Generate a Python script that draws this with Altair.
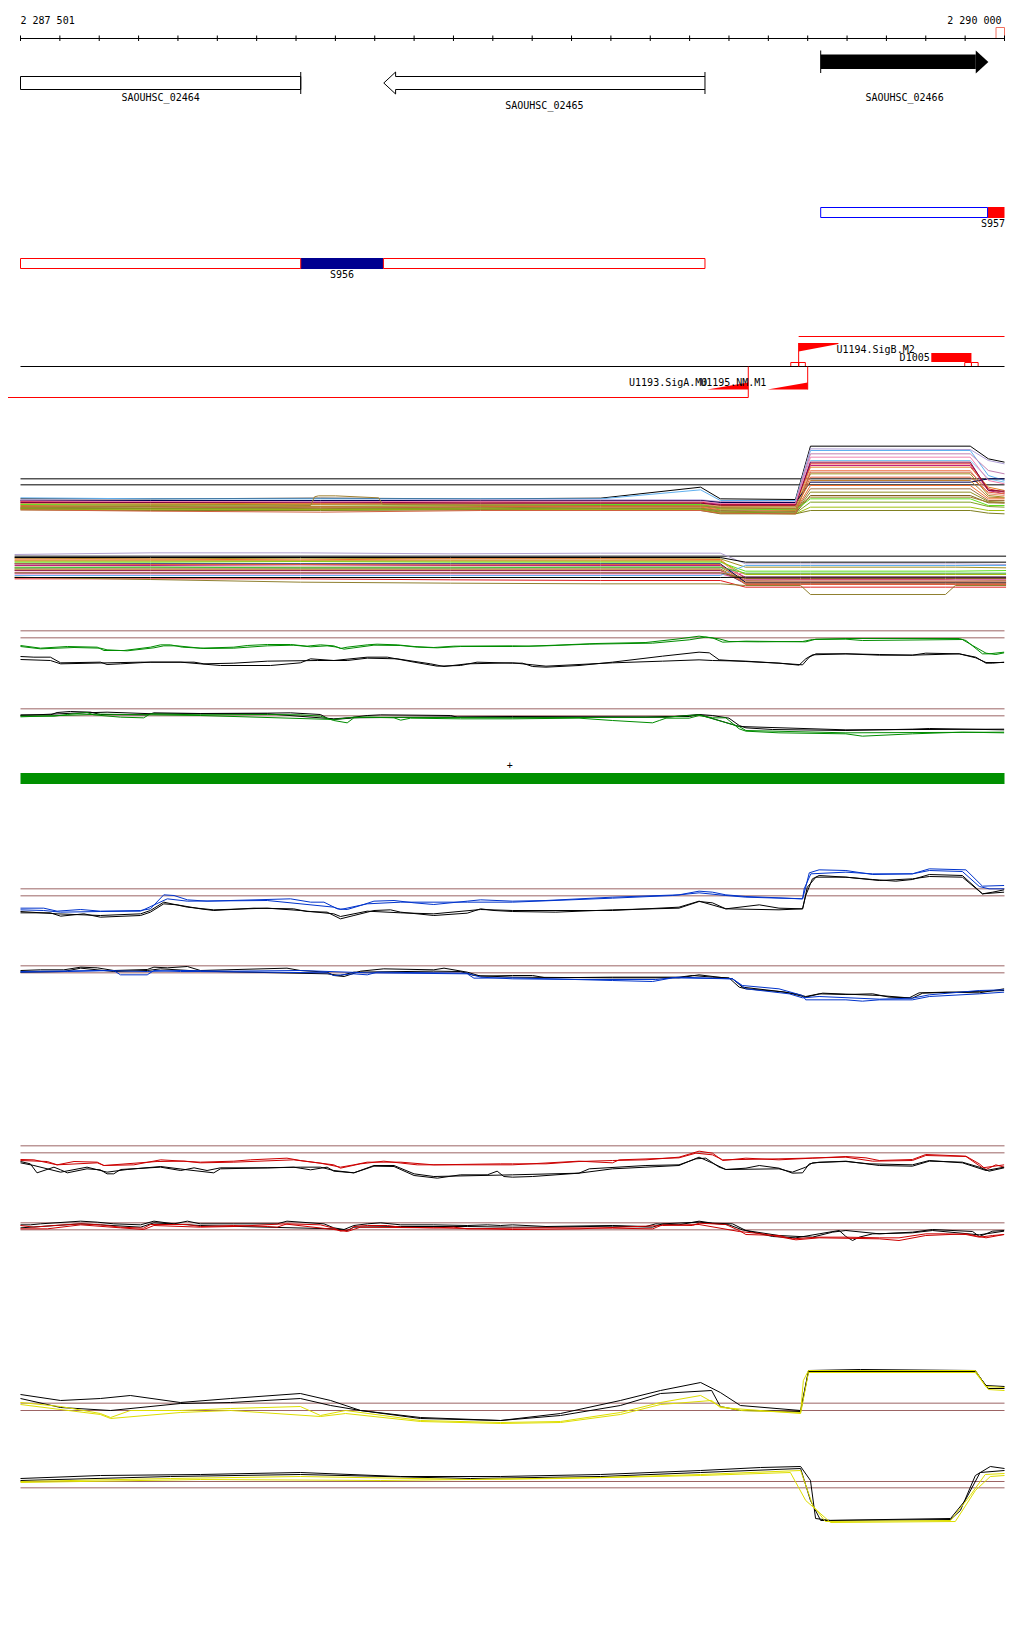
import altair as alt
import pandas as pd

# ---------------- data (positions are bp offsets from REGION_START) ----------------
REGION_START = 2287500
REGION_LEN = 2500
RULER_LABELS = ["2 287 501", "2 290 000"]
TICKS = list(range(0, REGION_LEN + 1, 100))

GENE_NAMES = ["SAOUHSC_02464", "SAOUHSC_02465", "SAOUHSC_02466"]
GENE_START = [0, 923, 2033]
GENE_END = [712, 1739, 2459]
GENE_STRAND = ["+", "-", "+"]

SEG_NAMES = ["S957", "S956"]
S957_PARTS = [(2033, 2457, "blue", "outline"), (2457, 2500, "red", "fill")]
S956_PARTS = [(0, 712, "red", "outline"), (712, 922, "#000090", "fill"), (922, 1739, "red", "outline")]

PROMOTERS = ["U1194.SigB.M2", "U1193.SigA.M0", "U1195.NM.M1"]
PROM_START = [1977, 1745, 1898]
PROM_END = [2078, 1849, 2000]
TERM_NAME = "D1005"
TERM_START, TERM_END = 2314, 2416

# expression profiles: (position offsets, signal readings) per probe series
# multi-colour panel: common position grid
M1_POS = [0, 330, 762, 1169, 1474, 1728, 1778, 1969, 2007, 2413, 2459, 2500]
M1 = [
    ("#000000", [205, 205, 203, 205, 203, 170, 205, 207, 47, 47, 85, 95]),
    ("#60b0f0", [202, 205, 205, 205, 205, 178, 210, 210, 60, 60, 135, 150]),
    ("#b0a0d8", [208, 210, 210, 208, 208, 208, 213, 215, 55, 57, 90, 100]),
    ("#c080b0", [210, 212, 211, 210, 210, 210, 215, 215, 70, 70, 120, 130]),
    ("#80c8f0", [212, 212, 213, 213, 213, 213, 218, 218, 90, 90, 145, 155]),
    ("#e02020", [213, 215, 218, 214, 215, 215, 222, 222, 100, 100, 175, 185]),
    ("#c02080", [215, 215, 215, 215, 218, 218, 220, 220, 105, 105, 180, 190]),
    ("#e08020", [218, 218, 220, 218, 218, 218, 225, 225, 110, 110, 170, 180]),
    ("#f09070", [220, 222, 222, 220, 220, 220, 228, 228, 120, 120, 190, 195]),
    ("#a09020", [221, 221, 223, 223, 223, 223, 230, 230, 130, 130, 195, 200]),
    ("#e06040", [225, 228, 235, 228, 228, 228, 235, 238, 140, 140, 185, 190]),
    ("#000050", [210, 210, 210, 210, 210, 210, 216, 216, 155, 155, 145, 145]),
    ("#f07030", [228, 230, 230, 230, 230, 230, 238, 240, 165, 165, 205, 205]),
    ("#a07040", [230, 233, 230, 230, 233, 233, 240, 243, 175, 175, 210, 210]),
    ("#909020", [232, 234, 236, 233, 233, 233, 242, 245, 185, 185, 213, 215]),
    ("#806020", [234, 236, 236, 236, 236, 236, 245, 248, 195, 195, 217, 217]),
    ("#60e020", [222, 225, 228, 225, 222, 222, 235, 238, 205, 205, 225, 225]),
    ("#80a020", [233, 233, 236, 233, 236, 236, 245, 248, 215, 215, 228, 230]),
    ("#a0c010", [236, 238, 238, 236, 238, 238, 248, 250, 230, 230, 240, 240]),
    ("#808020", [238, 240, 240, 238, 240, 240, 250, 250, 240, 240, 248, 250]),
    ("#d06040", [238, 242, 245, 240, 240, 240, 248, 250, 125, 125, 178, 185]),
    ("#800040", [216, 216, 216, 218, 218, 218, 224, 224, 95, 95, 180, 182]),
    ("#f080b0", [211, 213, 214, 212, 212, 212, 219, 219, 80, 80, 150, 160]),
    ("#c08030", [226, 226, 228, 226, 226, 226, 232, 234, 150, 150, 200, 202]),
]
M1_BUMP_POS = [0, 737, 747, 757, 800, 910, 920, 1474, 1728, 1778, 1969, 2007, 2413, 2459, 2500]
M1_BUMP = [230, 225, 199, 196, 196, 202, 222, 225, 226, 232, 235, 200, 200, 215, 218]

M2_POS = [-15, 330, 711, 1092, 1474, 1778, 1842, 1982, 2007, 2350, 2375, 2504]
M2 = [
    ("#b0a0d0", [372, 367, 367, 370, 368, 368, 400, 400, 400, 400, 400, 402]),
    ("#a09020", [383, 385, 383, 385, 385, 385, 410, 410, 410, 410, 410, 412]),
    ("#f07030", [386, 386, 388, 385, 385, 387, 445, 447, 447, 447, 445, 445]),
    ("#60e020", [395, 395, 393, 395, 395, 395, 422, 422, 422, 422, 422, 420]),
    ("#c02080", [405, 405, 403, 405, 405, 405, 440, 440, 440, 440, 440, 440]),
    ("#909020", [410, 410, 410, 410, 410, 410, 450, 452, 452, 452, 452, 450]),
    ("#a07040", [415, 415, 415, 415, 415, 415, 455, 455, 455, 455, 455, 455]),
    ("#800060", [420, 420, 420, 420, 420, 420, 460, 460, 460, 460, 460, 460]),
    ("#f080b0", [425, 425, 425, 425, 425, 425, 430, 430, 430, 430, 430, 430]),
    ("#d040a0", [430, 430, 430, 430, 430, 430, 448, 448, 448, 448, 448, 448]),
    ("#60b0f0", [435, 435, 435, 435, 435, 435, 405, 405, 405, 405, 405, 405]),
    ("#e02020", [445, 445, 445, 448, 450, 450, 470, 470, 470, 470, 470, 470]),
    ("#908030", [440, 447, 455, 458, 460, 460, 465, 465, 492, 492, 465, 465]),
    ("#000050", [400, 400, 400, 400, 400, 400, 455, 455, 455, 455, 455, 455]),
    ("#f09070", [390, 390, 390, 390, 390, 390, 452, 452, 452, 452, 452, 452]),
    ("#40c040", [412, 410, 412, 412, 410, 410, 428, 428, 428, 428, 428, 428]),
    ("#e06040", [400, 402, 402, 403, 402, 402, 462, 462, 462, 462, 462, 462]),
    ("#a0c010", [392, 392, 392, 392, 392, 392, 432, 432, 432, 432, 432, 432]),
    ("#c08030", [418, 418, 418, 418, 418, 418, 458, 458, 458, 458, 458, 458]),
    ("#806020", [427, 427, 427, 427, 427, 427, 444, 444, 444, 444, 444, 444]),
    ("#000000", [381, 381, 381, 381, 381, 381, 395, 395, 395, 395, 395, 395]),
    ("#000000", [441, 441, 441, 441, 441, 441, 440, 440, 440, 440, 440, 440]),
]

# paired tracks (green, blue, red, yellow): each series = (colour, positions, readings)
GREEN = [
    ("#008c00",
     [0, 51, 119, 195, 212, 263, 330, 356, 381, 411, 457, 542, 576, 627, 686, 728, 762, 796, 813, 830, 881, 906, 957, 1000, 1050, 1101, 1250, 1292, 1360, 1462, 1589, 1673, 1724, 1758, 1784, 1843, 1995, 2021, 2097, 2385, 2402, 2444, 2461, 2499],
     [75, 83, 78, 80, 90, 90, 80, 73, 73, 80, 83, 80, 75, 72, 72, 77, 73, 76, 84, 80, 73, 71, 73, 78, 81, 77, 76, 77, 74, 69, 66, 55, 47, 52, 65, 62, 64, 56, 54, 54, 60, 100, 100, 95]),
    ("#008c00",
     [0, 51, 136, 203, 220, 271, 339, 364, 398, 466, 542, 627, 694, 737, 779, 805, 822, 847, 898, 966, 1008, 1059, 1118, 1250, 1335, 1445, 1606, 1699, 1741, 1775, 1800, 1877, 1987, 2012, 2097, 2139, 2393, 2419, 2453, 2478, 2499],
     [78, 85, 81, 83, 88, 91, 82, 76, 76, 84, 83, 76, 74, 79, 76, 80, 86, 82, 74, 75, 80, 82, 78, 78, 76, 71, 68, 58, 50, 55, 63, 64, 63, 57, 56, 60, 57, 75, 98, 102, 97]),
    ("#000000",
     [0, 34, 76, 102, 203, 220, 254, 330, 407, 457, 508, 635, 711, 737, 796, 881, 932, 1000, 1059, 1118, 1160, 1250, 1275, 1301, 1335, 1419, 1504, 1631, 1724, 1750, 1775, 1843, 1927, 1987, 2004, 2021, 2097, 2182, 2266, 2300, 2385, 2427, 2453, 2470, 2499],
     [108, 110, 110, 127, 125, 132, 130, 125, 125, 130, 135, 135, 127, 115, 120, 110, 110, 125, 137, 135, 125, 128, 128, 138, 140, 135, 125, 107, 95, 97, 118, 123, 128, 133, 110, 100, 100, 104, 104, 98, 100, 110, 128, 128, 125]),
    ("#000000",
     [0, 76, 102, 305, 441, 466, 542, 627, 754, 830, 881, 957, 1042, 1076, 1135, 1250, 1335, 1504, 1631, 1724, 1758, 1843, 1927, 1978, 1995, 2012, 2097, 2182, 2266, 2385, 2427, 2453, 2499],
     [117, 120, 130, 125, 125, 130, 128, 122, 120, 120, 113, 115, 130, 138, 130, 127, 137, 127, 122, 118, 120, 122, 128, 134, 115, 103, 100, 102, 104, 100, 112, 126, 126]),
    ("#000000",
     [0, 76, 93, 127, 178, 203, 322, 339, 457, 627, 686, 762, 779, 796, 838, 847, 881, 915, 1093, 1110, 1250, 1589, 1640, 1699, 1724, 1758, 1800, 1826, 1843, 1911, 2097, 2266, 2309, 2499],
     [283, 283, 276, 273, 275, 282, 283, 277, 279, 278, 277, 282, 293, 297, 293, 290, 285, 283, 285, 290, 290, 290, 288, 288, 282, 285, 293, 315, 322, 327, 330, 326, 324, 328]),
    ("#000000",
     [0, 136, 220, 339, 627, 796, 830, 1250, 1640, 1724, 1826, 2097, 2499],
     [285, 278, 275, 280, 280, 295, 292, 288, 290, 282, 318, 328, 326]),
    ("#008c00",
     [0, 85, 119, 169, 186, 254, 313, 330, 457, 627, 711, 762, 796, 830, 847, 881, 949, 966, 991, 1118, 1250, 1419, 1504, 1606, 1623, 1640, 1699, 1724, 1758, 1792, 1826, 1843, 1927, 2097, 2139, 2266, 2393, 2499],
     [287, 287, 282, 276, 283, 290, 292, 280, 283, 282, 283, 287, 300, 307, 292, 290, 292, 299, 293, 295, 295, 293, 300, 307, 300, 293, 293, 285, 292, 292, 325, 332, 337, 340, 347, 340, 335, 337]),
    ("#008c00",
     [0, 203, 339, 457, 796, 847, 1250, 1640, 1724, 1826, 1843, 2097, 2499],
     [289, 281, 283, 285, 297, 290, 292, 290, 283, 318, 330, 337, 335]),
]

BLUE = [
    ("#0033cc",
     [0, 59, 93, 153, 203, 305, 330, 364, 390, 424, 474, 686, 737, 771, 805, 830, 864, 898, 949, 1000, 1050, 1135, 1169, 1250, 1335, 1504, 1673, 1724, 1758, 1792, 1843, 1927, 1987, 1995, 2004, 2029, 2097, 2165, 2266, 2309, 2402, 2444, 2499],
     [143, 143, 152, 147, 152, 150, 145, 103, 105, 118, 122, 115, 125, 125, 145, 147, 135, 122, 120, 127, 132, 122, 118, 122, 120, 110, 103, 92, 95, 103, 108, 112, 115, 80, 37, 28, 30, 42, 40, 25, 28, 77, 75]),
    ("#0033cc",
     [0, 59, 102, 203, 305, 373, 424, 627, 796, 813, 881, 966, 1135, 1250, 1504, 1657, 1724, 1792, 1843, 1987, 1991, 2008, 2097, 2165, 2266, 2309, 2393, 2436, 2461, 2499],
     [148, 150, 155, 153, 152, 115, 122, 120, 140, 147, 130, 125, 125, 125, 113, 105, 97, 105, 110, 115, 85, 40, 35, 40, 40, 30, 33, 78, 85, 85]),
    ("#000000",
     [0, 76, 102, 161, 203, 305, 330, 364, 398, 457, 491, 593, 694, 728, 779, 813, 847, 898, 940, 966, 1050, 1135, 1169, 1203, 1250, 1360, 1504, 1673, 1724, 1758, 1792, 1877, 1927, 1987, 1995, 2012, 2029, 2097, 2165, 2224, 2266, 2309, 2393, 2444, 2470, 2499],
     [157, 157, 167, 160, 170, 165, 155, 130, 133, 145, 150, 143, 145, 153, 155, 175, 165, 150, 148, 155, 165, 158, 145, 150, 153, 155, 148, 143, 123, 127, 145, 133, 143, 145, 105, 55, 45, 50, 57, 62, 57, 42, 45, 100, 95, 88]),
    ("#000000",
     [0, 93, 203, 305, 330, 364, 424, 491, 627, 711, 796, 813, 881, 966, 1050, 1169, 1250, 1504, 1673, 1724, 1792, 1927, 1987, 1999, 2021, 2097, 2182, 2266, 2309, 2393, 2444, 2499],
     [153, 160, 165, 160, 150, 125, 140, 148, 143, 150, 160, 168, 152, 157, 160, 147, 150, 150, 140, 122, 145, 148, 145, 80, 50, 50, 60, 55, 48, 50, 100, 95]),
    ("#000000",
     [0, 51, 110, 153, 195, 237, 322, 339, 373, 424, 457, 677, 711, 779, 796, 822, 864, 923, 1050, 1076, 1135, 1169, 1250, 1301, 1335, 1504, 1673, 1707, 1758, 1800, 1826, 1843, 1927, 1970, 1995, 2029, 2097, 2165, 2207, 2258, 2283, 2351, 2436, 2499],
     [330, 328, 328, 320, 322, 330, 327, 320, 322, 318, 330, 323, 330, 335, 345, 348, 332, 325, 328, 323, 335, 347, 345, 345, 352, 350, 350, 345, 350, 352, 380, 385, 393, 400, 408, 400, 402, 400, 410, 412, 397, 395, 397, 385]),
    ("#000000",
     [0, 110, 153, 237, 322, 356, 457, 779, 813, 847, 1050, 1118, 1152, 1250, 1504, 1673, 1724, 1809, 1834, 1944, 1995, 2038, 2182, 2266, 2292, 2499],
     [335, 333, 323, 333, 330, 325, 332, 340, 345, 335, 332, 333, 345, 350, 352, 352, 343, 355, 380, 395, 410, 398, 405, 413, 398, 390]),
    ("#0033cc",
     [0, 119, 237, 254, 322, 339, 407, 457, 779, 796, 847, 881, 906, 1135, 1169, 1250, 1419, 1614, 1673, 1809, 1834, 1927, 1987, 1995, 2097, 2139, 2182, 2266, 2309, 2436, 2499],
     [335, 333, 330, 343, 343, 330, 333, 333, 337, 345, 340, 343, 335, 338, 350, 355, 357, 357, 350, 355, 375, 385, 405, 418, 418, 422, 418, 418, 408, 400, 395]),
    ("#0033cc",
     [0, 203, 322, 407, 542, 711, 881, 1135, 1152, 1250, 1504, 1606, 1657, 1809, 1843, 1953, 1987, 2029, 2182, 2266, 2309, 2436, 2499],
     [333, 330, 333, 330, 332, 330, 337, 340, 353, 352, 360, 363, 352, 355, 385, 400, 412, 408, 416, 413, 403, 390, 388]),
]

RED = [
    ("#cc0000",
     [0, 34, 93, 136, 195, 212, 288, 356, 457, 542, 584, 677, 711, 762, 813, 847, 881, 966, 1050, 1220, 1250, 1335, 1419, 1504, 1589, 1673, 1724, 1758, 1784, 1843, 1927, 2012, 2097, 2148, 2182, 2266, 2300, 2402, 2436, 2453, 2478, 2499],
     [87, 88, 103, 93, 95, 105, 103, 88, 95, 92, 88, 83, 90, 98, 110, 103, 95, 95, 103, 100, 100, 100, 93, 90, 88, 80, 62, 68, 90, 83, 88, 83, 78, 82, 90, 87, 72, 77, 100, 117, 103, 110]),
    ("#cc0000",
     [0, 68, 93, 195, 212, 347, 415, 457, 542, 694, 796, 813, 864, 923, 1008, 1250, 1419, 1504, 1521, 1673, 1716, 1758, 1784, 1927, 2097, 2165, 2266, 2300, 2402, 2444, 2499],
     [90, 93, 103, 97, 105, 93, 92, 97, 95, 88, 103, 113, 100, 92, 103, 103, 92, 97, 88, 82, 68, 73, 88, 85, 80, 92, 90, 75, 78, 112, 103]),
    ("#000000",
     [0, 25, 42, 85, 102, 119, 169, 203, 220, 237, 254, 356, 407, 441, 474, 508, 627, 694, 737, 779, 796, 847, 898, 949, 1000, 1059, 1118, 1186, 1211, 1228, 1250, 1301, 1419, 1445, 1589, 1673, 1716, 1741, 1775, 1792, 1843, 1877, 1927, 1961, 1987, 2004, 2029, 2097, 2156, 2266, 2309, 2393, 2453, 2499],
     [93, 100, 127, 110, 118, 127, 115, 118, 130, 130, 117, 110, 120, 112, 120, 112, 112, 110, 118, 110, 122, 127, 107, 108, 135, 143, 133, 133, 122, 138, 140, 138, 128, 115, 105, 103, 85, 83, 110, 117, 113, 105, 113, 128, 127, 100, 95, 93, 100, 103, 90, 97, 120, 110]),
    ("#000000",
     [0, 34, 102, 169, 220, 271, 356, 424, 491, 508, 711, 762, 796, 847, 898, 949, 1000, 1050, 1250, 1419, 1504, 1673, 1724, 1758, 1792, 1927, 1961, 1995, 2012, 2097, 2182, 2266, 2309, 2393, 2436, 2461, 2499],
     [97, 105, 125, 110, 125, 117, 108, 118, 127, 115, 110, 110, 120, 127, 105, 105, 130, 138, 133, 128, 115, 105, 80, 98, 117, 115, 125, 110, 97, 92, 105, 107, 92, 95, 110, 122, 112]),
    ("#000000",
     [0, 25, 51, 153, 195, 237, 305, 339, 390, 424, 457, 542, 652, 677, 771, 796, 822, 847, 881, 915, 966, 1050, 1135, 1186, 1220, 1250, 1335, 1504, 1589, 1614, 1673, 1724, 1758, 1809, 1843, 1927, 2012, 2063, 2097, 2182, 2266, 2317, 2419, 2436, 2470, 2499],
     [283, 283, 280, 272, 275, 280, 283, 272, 280, 272, 280, 280, 280, 272, 280, 292, 297, 285, 280, 277, 283, 283, 285, 283, 285, 283, 288, 285, 288, 280, 283, 272, 278, 280, 300, 315, 320, 305, 300, 310, 305, 297, 303, 318, 302, 300]),
    ("#000000",
     [0, 51, 153, 203, 305, 339, 457, 796, 830, 847, 966, 1135, 1250, 1335, 1504, 1606, 1631, 1724, 1800, 1834, 1911, 1970, 2029, 2080, 2097, 2114, 2131, 2165, 2266, 2317, 2436, 2499],
     [292, 288, 280, 283, 290, 277, 285, 295, 300, 290, 288, 288, 290, 290, 287, 290, 280, 275, 283, 298, 318, 322, 310, 300, 318, 330, 320, 310, 307, 300, 313, 302]),
    ("#cc0000",
     [0, 34, 85, 153, 203, 254, 313, 330, 424, 457, 542, 627, 652, 677, 762, 796, 813, 838, 847, 881, 932, 966, 1050, 1101, 1135, 1250, 1335, 1504, 1606, 1631, 1707, 1724, 1792, 1826, 1843, 1927, 1961, 2029, 2097, 2182, 2232, 2300, 2351, 2402, 2436, 2470, 2499],
     [285, 290, 285, 280, 283, 290, 293, 282, 282, 288, 285, 288, 290, 280, 283, 293, 302, 297, 288, 285, 285, 290, 292, 290, 295, 293, 292, 293, 295, 283, 285, 278, 282, 300, 312, 315, 325, 320, 320, 322, 322, 310, 310, 312, 320, 315, 312]),
    ("#cc0000",
     [0, 68, 153, 254, 313, 339, 457, 542, 669, 796, 830, 864, 1050, 1250, 1419, 1631, 1724, 1826, 1885, 1970, 2029, 2182, 2232, 2300, 2402, 2453, 2499],
     [295, 295, 283, 292, 297, 285, 290, 288, 280, 297, 303, 290, 292, 297, 295, 285, 282, 303, 310, 328, 322, 325, 330, 315, 310, 322, 312]),
]

YELLOW = [
    ("#000000",
     [0, 102, 203, 279, 406, 534, 711, 788, 864, 1016, 1220, 1372, 1524, 1626, 1728, 1778, 1829, 1982, 2002, 2134, 2426, 2452, 2500],
     [102, 120, 114, 105, 126, 114, 99, 120, 150, 174, 180, 159, 120, 90, 66, 96, 135, 150, 30, 27, 30, 75, 78]),
    ("#000000",
     [0, 102, 229, 406, 534, 711, 788, 864, 1016, 1220, 1372, 1524, 1626, 1756, 1778, 1829, 1982, 2002, 2426, 2459, 2500],
     [114, 141, 150, 129, 126, 114, 135, 150, 171, 180, 165, 135, 99, 90, 138, 150, 153, 33, 33, 84, 84]),
    ("#dede00",
     [0, 102, 203, 229, 279, 406, 534, 711, 762, 826, 1016, 1220, 1372, 1524, 1626, 1728, 1778, 1829, 1982, 1989, 2002, 2426, 2452, 2500],
     [126, 138, 159, 171, 150, 150, 144, 138, 165, 150, 180, 186, 183, 156, 126, 105, 138, 150, 156, 60, 30, 30, 78, 81]),
    ("#dede00",
     [0, 203, 229, 406, 534, 762, 826, 1016, 1220, 1372, 1524, 1626, 1756, 1778, 1982, 2002, 2426, 2459, 2500],
     [132, 162, 174, 156, 150, 168, 159, 183, 189, 186, 162, 132, 120, 141, 159, 36, 36, 87, 90]),
    ("#000000",
     [0, 203, 457, 711, 965, 1220, 1474, 1728, 1880, 1982, 2007, 2020, 2058, 2363, 2388, 2426, 2464, 2500],
     [354, 345, 342, 336, 348, 348, 342, 330, 321, 318, 360, 474, 480, 477, 450, 345, 318, 324]),
    ("#000000",
     [0, 381, 711, 1143, 1474, 1728, 1982, 2007, 2033, 2363, 2400, 2438, 2500],
     [360, 348, 342, 354, 348, 336, 324, 420, 480, 474, 420, 336, 330]),
    ("#dede00",
     [0, 381, 711, 1143, 1474, 1728, 1982, 2013, 2045, 2363, 2413, 2451, 2500],
     [363, 354, 348, 357, 351, 342, 330, 435, 483, 480, 405, 342, 339]),
    ("#dede00",
     [0, 457, 914, 1372, 1728, 1956, 1995, 2058, 2375, 2426, 2464, 2500],
     [366, 357, 360, 354, 345, 336, 420, 486, 483, 390, 348, 345]),
]

# reference (threshold) lines per panel, in the same reading units
REF_LEVELS = {
    "multi": [(145, "#000000", 0, 2500), (163, "#000000", 0, 2500), (377, "#000000", -15, 2504)],
    "green": [(31, "#9c6464", 0, 2500), (52, "#9c6464", 0, 2500), (265, "#9c6464", 0, 2500), (286, "#9c6464", 0, 2500)],
    "blue": [(85, "#9c6464", 0, 2500), (106, "#9c6464", 0, 2500), (316, "#9c6464", 0, 2500), (337, "#9c6464", 0, 2500)],
    "red": [(46, "#9c6464", 0, 2500), (67, "#9c6464", 0, 2500), (277, "#9c6464", 0, 2500), (298, "#9c6464", 0, 2500)],
    "yellow": [(128, "#9c6464", 0, 2500), (150, "#9c6464", 0, 2500), (363, "#9c6464", 0, 2500), (382, "#9c6464", 0, 2500)],
}

# ---------------- layout (page pixels; styling only) ----------------
W, H = 1000, 1600
MARGIN = 8
X0_PX = 20.5
PX_PER_BP = 984 / REGION_LEN
PANEL_TOP = {"multi": 430, "green": 620, "blue": 860, "red": 1130, "yellow": 1360}
UNITS_PER_PX = 3.0
FONT = "DejaVu Sans Mono"


def p2bp(px):
    return (px - X0_PX) / PX_PER_BP


XS = alt.Scale(domain=[p2bp(MARGIN), p2bp(MARGIN + W)], nice=False, zero=False)
YS = alt.Scale(domain=[MARGIN, MARGIN + H], reverse=True, nice=False, zero=False)


def X(f="x"):
    return alt.X(f, type="quantitative", scale=XS, axis=None)


def Y(f="y"):
    return alt.Y(f, type="quantitative", scale=YS, axis=None)


def lvl(panel, v):
    return PANEL_TOP[panel] + v / UNITS_PER_PX + 0.5


# ---------------- build tables ----------------
hrules = [
    dict(x=0, x2=REGION_LEN, y=38.5, c="#000000"),
    dict(x=0, x2=REGION_LEN, y=366.5, c="#000000"),
    dict(x=p2bp(0), x2=PROM_END[1], y=397.5, c="#ff0000"),
    dict(x=PROM_START[0], x2=REGION_LEN, y=336.5, c="#ff0000"),
]
for panel, levels in REF_LEVELS.items():
    for v, col, a, b in levels:
        hrules.append(dict(x=a, x2=b, y=lvl(panel, v), c=col))
hrules = pd.DataFrame(hrules)

vrules = [dict(x=t, y=35.5, y2=41, c="#000000") for t in TICKS]
vrules += [
    dict(x=GENE_END[0], y=72, y2=94, c="#000000"),
    dict(x=GENE_END[1], y=72, y2=94, c="#000000"),
    dict(x=GENE_START[2], y=50.5, y2=73, c="#000000"),
    dict(x=PROM_START[0], y=343, y2=366.5, c="#ff0000"),
    dict(x=PROM_END[1], y=366.5, y2=397.5, c="#ff0000"),
    dict(x=PROM_END[2], y=366.5, y2=389.5, c="#ff0000"),
]
vrules = pd.DataFrame(vrules)

outl = [
    dict(x=GENE_START[0], x2=GENE_END[0], y=76.5, y2=89.5, c="#000000"),
    dict(x=p2bp(996), x2=REGION_LEN, y=27.5, y2=38.5, c="#f07060"),
]
fills = [
    dict(x=GENE_START[2], x2=GENE_END[2] - 32, y=54.5, y2=69, c="#000000"),
    dict(x=TERM_START, x2=TERM_END, y=353, y2=362, c="#ff0000"),
    dict(x=0, x2=REGION_LEN, y=773, y2=784, c="#009000"),
]
for (a, b, col, kind) in S957_PARTS:
    if kind == "outline":
        outl.append(dict(x=a, x2=b, y=207.5, y2=217.5, c=col))
    else:
        fills.append(dict(x=a, x2=b, y=207, y2=218, c=col))
for (a, b, col, kind) in S956_PARTS:
    if kind == "outline":
        outl.append(dict(x=a, x2=b, y=258.5, y2=268.5, c="#ff0000"))
    else:
        fills.append(dict(x=a, x2=b, y=258, y2=269, c=col))
for a, b in [(1957, 1977), (1977, 1994), (2399, 2416), (2416, 2433)]:
    outl.append(dict(x=a, x2=b, y=362.5, y2=366.5, c="#ff0000"))
outl = pd.DataFrame(outl)
fills = pd.DataFrame(fills)

areas = pd.DataFrame([
    dict(id="g3", x=GENE_END[2] - 32, y=50.5, y2=73.5, c="#000000"),
    dict(id="g3", x=GENE_END[2], y=62, y2=62, c="#000000"),
    dict(id="p1", x=PROM_START[0], y=343, y2=351.5, c="#ff0000"),
    dict(id="p1", x=PROM_END[0], y=343, y2=344, c="#ff0000"),
    dict(id="p2", x=PROM_START[1], y=389.5, y2=389.5, c="#ff0000"),
    dict(id="p2", x=PROM_END[1], y=382.5, y2=389.5, c="#ff0000"),
    dict(id="p3", x=PROM_START[2], y=389.5, y2=389.5, c="#ff0000"),
    dict(id="p3", x=PROM_END[2], y=382.5, y2=389.5, c="#ff0000"),
])

head = 30
g2 = pd.DataFrame([
    dict(o=0, x=GENE_END[1], y=76.5), dict(o=1, x=GENE_START[1] + head, y=76.5),
    dict(o=2, x=GENE_START[1] + head, y=72), dict(o=3, x=GENE_START[1], y=83),
    dict(o=4, x=GENE_START[1] + head, y=94), dict(o=5, x=GENE_START[1] + head, y=89.5),
    dict(o=6, x=GENE_END[1], y=89.5),
])

lines = []
sid = 0
for col, vals in M1:
    for p, v in zip(M1_POS, vals):
        lines.append(dict(s=sid, x=p, y=lvl("multi", v), c=col))
    sid += 1
for p, v in zip(M1_BUMP_POS, M1_BUMP):
    lines.append(dict(s=sid, x=p, y=lvl("multi", v), c="#a08030"))
sid += 1
for col, vals in M2:
    for p, v in zip(M2_POS, vals):
        lines.append(dict(s=sid, x=p, y=lvl("multi", v), c=col))
    sid += 1
for panel, series in [("green", GREEN), ("blue", BLUE), ("red", RED), ("yellow", YELLOW)]:
    for col, pos, vals in series:
        assert len(pos) == len(vals)
        for p, v in zip(pos, vals):
            lines.append(dict(s=sid, x=p, y=lvl(panel, v), c=col))
        sid += 1
lines = pd.DataFrame(lines)

gc = [(s + e) / 2 for s, e in zip(GENE_START, GENE_END)]
t_left = pd.DataFrame([
    dict(x=0, y=20.7, t=RULER_LABELS[0]),
    dict(x=PROM_END[0] - 5, y=349.7, t=PROMOTERS[0]),
])
t_center = pd.DataFrame([
    dict(x=gc[0], y=97.5, t=GENE_NAMES[0]),
    dict(x=gc[1], y=106, t=GENE_NAMES[1]),
    dict(x=gc[2], y=97.5, t=GENE_NAMES[2]),
    dict(x=(712 + 922) / 2, y=274.7, t=SEG_NAMES[1]),
    dict(x=1243, y=766, t="+"),
])
t_right = pd.DataFrame([
    dict(x=p2bp(1001.5), y=20.7, t=RULER_LABELS[1]),
    dict(x=p2bp(1005), y=223.5, t=SEG_NAMES[0]),
    dict(x=TERM_START - 4, y=357.5, t=TERM_NAME),
    dict(x=PROM_START[1], y=383, t=PROMOTERS[1]),
    dict(x=PROM_START[2] - 3, y=383, t=PROMOTERS[2]),
])

C = lambda: alt.Color("c:N", scale=None, legend=None)

layers = [
    alt.Chart(fills).mark_rect().encode(X(), x2="x2", y=Y(), y2="y2", color=C()),
    alt.Chart(outl).mark_rect(fill="white", fillOpacity=0, strokeWidth=1).encode(
        X(), x2="x2", y=Y(), y2="y2", stroke=alt.Stroke("c:N", scale=None, legend=None)),
    alt.Chart(areas).mark_area(interpolate="linear").encode(
        X(), y=Y(), y2="y2", detail="id:N", color=C()),
    alt.Chart(g2).mark_line(color="black", strokeWidth=1).encode(X(), y=Y(), order="o:Q"),
    alt.Chart(hrules).mark_rule(strokeWidth=1).encode(X(), x2="x2", y=Y(), color=C()),
    alt.Chart(vrules).mark_rule(strokeWidth=1).encode(X(), y=Y(), y2="y2", color=C()),
    alt.Chart(lines).mark_line(strokeWidth=1, interpolate="linear").encode(
        X(), y=Y(), detail="s:N", color=C()),
    alt.Chart(t_left).mark_text(align="left", baseline="middle", font=FONT, fontSize=10, color="black").encode(
        X(), y=Y(), text="t:N"),
    alt.Chart(t_center).mark_text(align="center", baseline="middle", font=FONT, fontSize=10, color="black").encode(
        X(), y=Y(), text="t:N"),
    alt.Chart(t_right).mark_text(align="right", baseline="middle", font=FONT, fontSize=10, color="black").encode(
        X(), y=Y(), text="t:N"),
]

chart = alt.layer(*layers).properties(
    width=W, height=H, padding=0, autosize=alt.AutoSizeParams(type="none"), background="white"
).configure_view(stroke=None)

chart.save("out.html", embed_options={"renderer": "svg", "actions": False})
